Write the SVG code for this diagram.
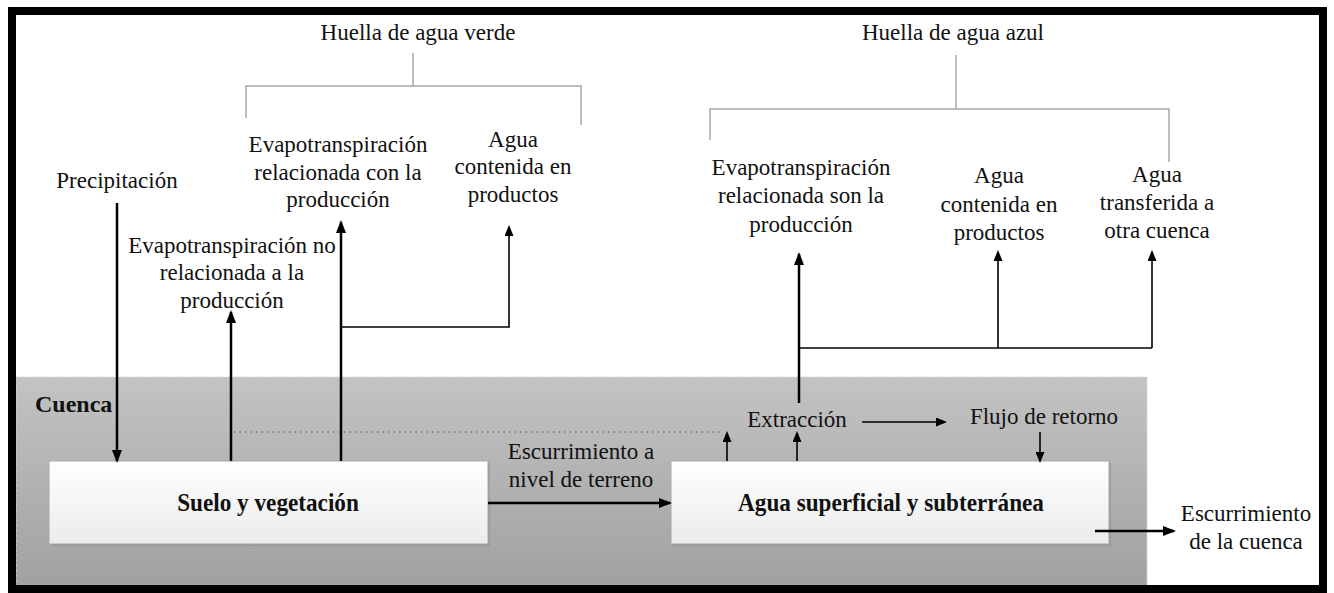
<svg xmlns="http://www.w3.org/2000/svg" width="1334" height="593" viewBox="0 0 1334 593">
<defs>
<linearGradient id="shade" x1="0" y1="0" x2="0" y2="1">
<stop offset="0" stop-color="#c3c3c3"/>
<stop offset="1" stop-color="#a1a1a1"/>
</linearGradient>
<linearGradient id="boxg" x1="0" y1="0" x2="0" y2="1">
<stop offset="0" stop-color="#ffffff"/>
<stop offset="1" stop-color="#ebebeb"/>
</linearGradient>
<marker id="ah" markerUnits="userSpaceOnUse" markerWidth="13" markerHeight="10" refX="11" refY="5" orient="auto">
<path d="M0,0 L13,5 L0,10 z" fill="#000"/>
</marker>
<marker id="ahs" markerUnits="userSpaceOnUse" markerWidth="11" markerHeight="9" refX="9" refY="4.5" orient="auto">
<path d="M0,0 L11,4.5 L0,9 z" fill="#000"/>
</marker>
<style>
text{font-family:"Liberation Serif","Times New Roman",serif;font-size:23px;fill:#111;}
.c{text-anchor:middle;}
.b{font-weight:bold;}
.bl{font-weight:bold;font-size:25.5px;}
.bracket{fill:none;stroke:#a8a8a8;stroke-width:1.5;}
.ar{fill:none;stroke:#000;stroke-width:2.5;}
.th{fill:none;stroke:#000;stroke-width:1.6;}
.box{fill:url(#boxg);stroke:#a8a8a8;stroke-width:1;}
</style>
</defs>
<rect x="0" y="0" width="1334" height="593" fill="#fff"/>
<g id="cuenca">
<rect x="16" y="377" width="1131" height="209" fill="url(#shade)" stroke="#d8d8d8" stroke-width="1" stroke-dasharray="3,2"/>
<text x="35" y="412" class="b" style="font-size:24px">Cuenca</text>
</g>
<g id="huella-verde">
<text x="418" y="40" class="c">Huella de agua verde</text>
<path class="bracket" d="M413,53 V86 M246,118 V86 H581 V125"/>
</g>
<g id="huella-azul">
<text x="953" y="40" class="c">Huella de agua azul</text>
<path class="bracket" d="M956,55 V109 M710,140 V109 H1169 V162"/>
</g>
<g id="precipitacion"><text x="117" y="188" class="c">Precipitación</text></g>
<g id="evap-no">
<text class="c"><tspan x="232" y="253">Evapotranspiración no</tspan><tspan x="232" y="280">relacionada a la</tspan><tspan x="232" y="308">producción</tspan></text>
</g>
<g id="evap-verde">
<text class="c"><tspan x="338" y="152">Evapotranspiración</tspan><tspan x="338" y="180">relacionada con la</tspan><tspan x="338" y="207">producción</tspan></text>
</g>
<g id="agua-verde">
<text class="c"><tspan x="513" y="147">Agua</tspan><tspan x="513" y="174">contenida en</tspan><tspan x="513" y="202">productos</tspan></text>
</g>
<g id="evap-azul">
<text class="c"><tspan x="801" y="175">Evapotranspiración</tspan><tspan x="801" y="203">relacionada son la</tspan><tspan x="801" y="232">producción</tspan></text>
</g>
<g id="agua-azul">
<text class="c"><tspan x="999" y="183">Agua</tspan><tspan x="999" y="212">contenida en</tspan><tspan x="999" y="240">productos</tspan></text>
</g>
<g id="agua-transferida">
<text class="c"><tspan x="1157" y="182">Agua</tspan><tspan x="1157" y="210">transferida a</tspan><tspan x="1157" y="238">otra cuenca</tspan></text>
</g>
<g id="suelo">
<rect x="51" y="463" width="439" height="83" fill="#8a8a8a" opacity="0.5"/>
<rect class="box" x="49" y="461" width="439" height="83"/>
<text transform="translate(268,511) scale(0.91,1)" x="0" y="0" class="c bl">Suelo y vegetación</text>
</g>
<g id="agua-sup">
<rect x="673" y="463" width="438" height="83" fill="#8a8a8a" opacity="0.5"/>
<rect class="box" x="671" y="461" width="438" height="83"/>
<text transform="translate(891,511) scale(0.91,1)" x="0" y="0" class="c bl">Agua superficial y subterránea</text>
</g>
<g id="escurrimiento-terreno">
<text class="c"><tspan x="581" y="459">Escurrimiento a</tspan><tspan x="581" y="487">nivel de terreno</tspan></text>
</g>
<g id="extraccion"><text x="797" y="427" class="c">Extracción</text></g>
<g id="flujo"><text x="1044" y="424" class="c">Flujo de retorno</text></g>
<g id="escurrimiento-cuenca">
<text class="c"><tspan x="1246" y="521">Escurrimiento</tspan><tspan x="1246" y="549">de la cuenca</tspan></text>
</g>
<g id="connectors">
<line class="ar" x1="117" y1="203" x2="117" y2="461" marker-end="url(#ah)"/>
<line class="ar" x1="231" y1="461" x2="231" y2="312" marker-end="url(#ah)"/>
<line class="ar" x1="341" y1="461" x2="341" y2="222" marker-end="url(#ah)"/>
<polyline class="th" points="341,327 509,327 509,227" marker-end="url(#ahs)"/>
<line x1="234" y1="432" x2="722" y2="432" stroke="#555" stroke-width="1.2" stroke-dasharray="1.5,4"/>
<line class="ar" x1="488" y1="503" x2="670" y2="503" marker-end="url(#ah)"/>
<line class="th" x1="727" y1="461" x2="727" y2="433" marker-end="url(#ahs)"/>
<line class="th" x1="797" y1="461" x2="797" y2="433" marker-end="url(#ahs)"/>
<line class="th" x1="862" y1="422" x2="945" y2="422" marker-end="url(#ahs)"/>
<line class="th" x1="1040" y1="432" x2="1040" y2="461" marker-end="url(#ahs)"/>
<line class="ar" x1="1095" y1="531" x2="1174" y2="531" marker-end="url(#ah)"/>
<line class="ar" x1="799" y1="403" x2="799" y2="254" marker-end="url(#ah)"/>
<line class="th" x1="799" y1="348" x2="1152" y2="348"/>
<line class="th" x1="998" y1="348" x2="998" y2="252" marker-end="url(#ahs)"/>
<line class="th" x1="1152" y1="348" x2="1152" y2="252" marker-end="url(#ahs)"/>
</g>
<rect x="12" y="11" width="1311" height="578" fill="none" stroke="#000" stroke-width="8"/>
</svg>
